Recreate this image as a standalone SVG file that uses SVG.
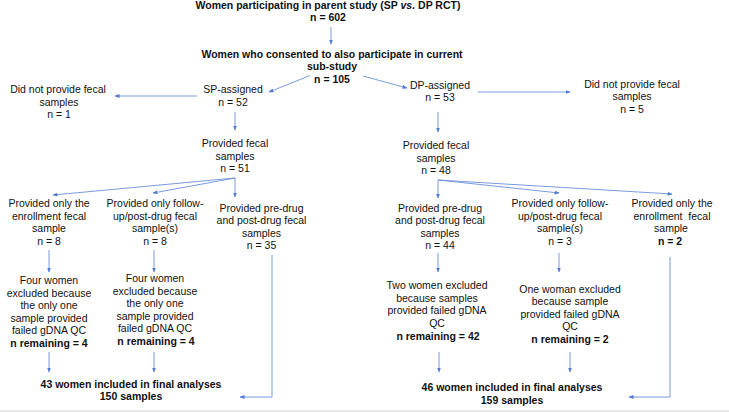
<svg xmlns="http://www.w3.org/2000/svg" width="729" height="412" viewBox="0 0 729 412">
<style>
.t{font-family:"Liberation Sans",Arial,sans-serif;font-size:10.5px;fill:#111;text-anchor:middle}
.b{font-weight:bold}
.c{fill:none;stroke:#6b8edb;stroke-width:0.9}
</style>
<defs>
<marker id="ah" markerUnits="userSpaceOnUse" markerWidth="5" markerHeight="4" refX="4.5" refY="2" orient="auto">
<path d="M0,0 L5,2 L0,4 z" fill="#4f7ad6"/>
</marker>
</defs>
<rect x="0" y="0" width="729" height="412" fill="#ffffff"/>
<rect x="0" y="410" width="729" height="2" fill="#e8e8e8"/>

<g id="connectors">
<path class="c" marker-end="url(#ah)" d="M331,27 L331,44"/>
<path class="c" marker-end="url(#ah)" d="M310,75.5 L269,92"/>
<path class="c" marker-end="url(#ah)" d="M363,76 L407,88"/>
<path class="c" marker-end="url(#ah)" d="M197,96 L115,96"/>
<path class="c" marker-end="url(#ah)" d="M235,112 L235,130"/>
<path class="c" marker-end="url(#ah)" d="M235,178 L53,195"/>
<path class="c" marker-end="url(#ah)" d="M235,178 L153,193"/>
<path class="c" marker-end="url(#ah)" d="M235,178 L235,197"/>
<path class="c" marker-end="url(#ah)" d="M49,250 L49,272"/>
<path class="c" marker-end="url(#ah)" d="M154,250 L154,272"/>
<path class="c" marker-end="url(#ah)" d="M272,255 L272,397 L240,397"/>
<path class="c" marker-end="url(#ah)" d="M49,352 L49,372"/>
<path class="c" marker-end="url(#ah)" d="M154,352 L154,372"/>
<path class="c" marker-end="url(#ah)" d="M478,92 L570,92"/>
<path class="c" marker-end="url(#ah)" d="M438,112 L438,132"/>
<path class="c" marker-end="url(#ah)" d="M438,180 L438,198"/>
<path class="c" marker-end="url(#ah)" d="M438,180 L559,193"/>
<path class="c" marker-end="url(#ah)" d="M438,180 L672,194"/>
<path class="c" marker-end="url(#ah)" d="M438,253 L438,272"/>
<path class="c" marker-end="url(#ah)" d="M559,253 L559,272"/>
<path class="c" marker-end="url(#ah)" d="M670,257 L670,397 L629,397"/>
<path class="c" marker-end="url(#ah)" d="M439,352 L439,372"/>
<path class="c" marker-end="url(#ah)" d="M570,352 L570,372"/>
</g>

<g id="n-parent">
<text class="t b" x="328" y="9">Women participating in parent study (SP <tspan font-style="italic">vs.</tspan> DP RCT)</text>
<text class="t b" x="328" y="21">n = 602</text>
</g>
<g id="n-consented">
<text class="t b" x="332" y="57.5">Women who consented to also participate in current</text>
<text class="t b" x="332" y="70">sub-study</text>
<text class="t b" x="332" y="82.5">n = 105</text>
</g>
<g id="n-sp">
<text class="t" x="233" y="93">SP-assigned</text>
<text class="t" x="233" y="105.5">n = 52</text>
</g>
<g id="n-sp-nofecal">
<text class="t" x="58" y="93">Did not provide fecal</text>
<text class="t" x="59" y="105.5">samples</text>
<text class="t" x="59" y="118">n = 1</text>
</g>
<g id="n-sp-fecal">
<text class="t" x="235" y="147">Provided fecal</text>
<text class="t" x="235" y="159.5">samples</text>
<text class="t" x="235" y="171.5">n = 51</text>
</g>
<g id="n-sp-enroll">
<text class="t" x="49" y="207">Provided only the</text>
<text class="t" x="49" y="219.5">enrollment fecal</text>
<text class="t" x="49" y="232">sample</text>
<text class="t" x="49" y="245">n = 8</text>
</g>
<g id="n-sp-follow">
<text class="t" x="155" y="207">Provided only follow-</text>
<text class="t" x="155" y="219.5">up/post-drug fecal</text>
<text class="t" x="155" y="232">sample(s)</text>
<text class="t" x="155" y="245">n = 8</text>
</g>
<g id="n-sp-both">
<text class="t" x="261.5" y="211.5">Provided pre-drug</text>
<text class="t" x="261.5" y="224">and post-drug fecal</text>
<text class="t" x="261.5" y="236.5">samples</text>
<text class="t" x="261.5" y="249">n = 35</text>
</g>
<g id="n-sp-excl1">
<text class="t" x="49" y="284">Four women</text>
<text class="t" x="49" y="296.5">excluded because</text>
<text class="t" x="49" y="309">the only one</text>
<text class="t" x="49" y="321.5">sample provided</text>
<text class="t" x="49" y="334">failed gDNA QC</text>
<text class="t b" x="49" y="347">n remaining = 4</text>
</g>
<g id="n-sp-excl2">
<text class="t" x="155" y="282">Four women</text>
<text class="t" x="155" y="294.5">excluded because</text>
<text class="t" x="155" y="307">the only one</text>
<text class="t" x="155" y="319.5">sample provided</text>
<text class="t" x="155" y="332">failed gDNA QC</text>
<text class="t b" x="156" y="345">n remaining = 4</text>
</g>
<g id="n-sp-final">
<text class="t b" x="131" y="387.5">43 women included in final analyses</text>
<text class="t b" x="131" y="400">150 samples</text>
</g>

<g id="n-dp">
<text class="t" x="440" y="88.5">DP-assigned</text>
<text class="t" x="440" y="101">n = 53</text>
</g>
<g id="n-dp-nofecal">
<text class="t" x="632" y="87.5">Did not provide fecal</text>
<text class="t" x="632" y="100">samples</text>
<text class="t" x="632" y="112.5">n = 5</text>
</g>
<g id="n-dp-fecal">
<text class="t" x="436" y="149">Provided fecal</text>
<text class="t" x="436" y="161.5">samples</text>
<text class="t" x="436" y="174">n = 48</text>
</g>
<g id="n-dp-both">
<text class="t" x="440" y="211.5">Provided pre-drug</text>
<text class="t" x="440" y="224">and post-drug fecal</text>
<text class="t" x="440" y="236.5">samples</text>
<text class="t" x="440" y="249">n = 44</text>
</g>
<g id="n-dp-follow">
<text class="t" x="560" y="207">Provided only follow-</text>
<text class="t" x="560" y="219.5">up/post-drug fecal</text>
<text class="t" x="560" y="232">sample(s)</text>
<text class="t" x="560" y="244.5">n = 3</text>
</g>
<g id="n-dp-enroll">
<text class="t" x="672" y="207">Provided only the</text>
<text class="t" x="672" y="219.5">enrollment&#160; fecal</text>
<text class="t" x="671" y="232">sample</text>
<text class="t b" x="670" y="244.5">n = 2</text>
</g>
<g id="n-dp-excl1">
<text class="t" x="437" y="289">Two women excluded</text>
<text class="t" x="437" y="301.5">because samples</text>
<text class="t" x="437" y="314">provided failed gDNA</text>
<text class="t" x="437" y="326.5">QC</text>
<text class="t b" x="438" y="339.5">n remaining = 42</text>
</g>
<g id="n-dp-excl2">
<text class="t" x="570" y="292.5">One woman excluded</text>
<text class="t" x="570" y="305">because sample</text>
<text class="t" x="570" y="317.5">provided failed gDNA</text>
<text class="t" x="570" y="330">QC</text>
<text class="t b" x="570" y="342.5">n remaining = 2</text>
</g>
<g id="n-dp-final">
<text class="t b" x="512" y="391">46 women included in final analyses</text>
<text class="t b" x="512" y="403.5">159 samples</text>
</g>
</svg>
